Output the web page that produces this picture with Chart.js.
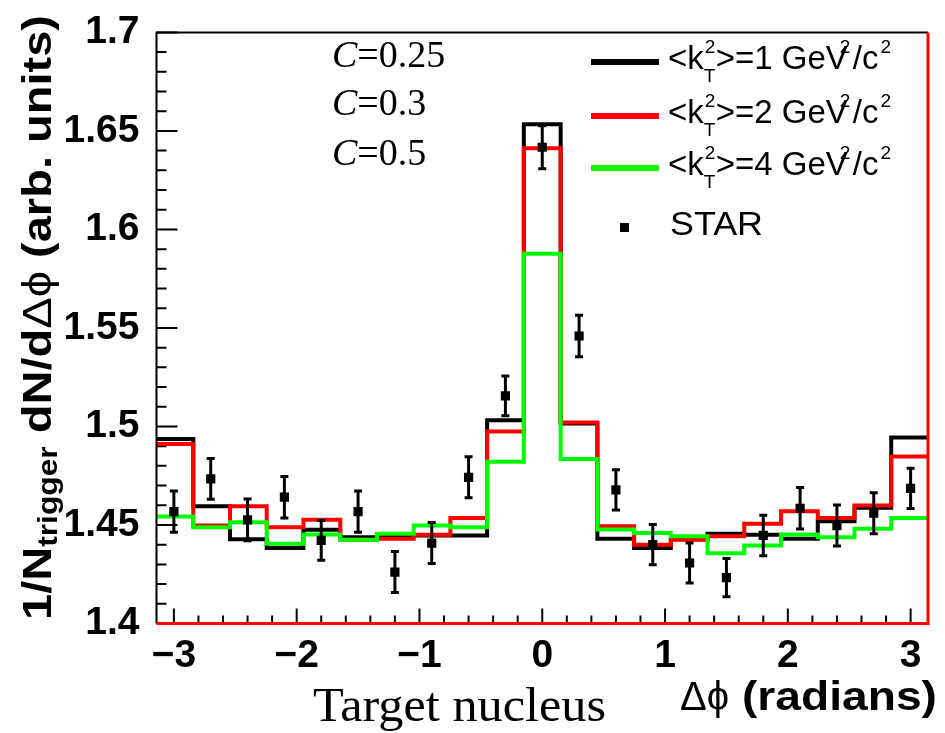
<!DOCTYPE html>
<html>
<head>
<meta charset="utf-8">
<title>Azimuthal correlation</title>
<script src="https://cdn.jsdelivr.net/npm/chart.js@4.4.1/dist/chart.umd.min.js"></script>
<style>
    html, body { margin: 0; padding: 0; background: #fff; }
    #wrap { position: relative; width: 945px; height: 733px; }
</style>
</head>
<body>
<div id="wrap"><canvas id="phiChart"></canvas></div>
<script>
// Histogram bin edges (radians), 21 bins
const binEdges = [-3.1416, -2.842, -2.543, -2.244, -1.945, -1.645, -1.346, -1.047, -0.748, -0.449, -0.150,
                  0.150, 0.449, 0.748, 1.047, 1.346, 1.645, 1.945, 2.244, 2.543, 2.842, 3.1416];

// Model curves, one value per bin
const kt1Values = [1.4936, 1.4595, 1.4427, 1.4383, 1.4476, 1.4438, 1.4442, 1.4447, 1.4447, 1.5032, 1.6534,
                   1.5015, 1.4430, 1.4383, 1.4427, 1.4455, 1.4450, 1.4430, 1.4519, 1.4587, 1.4944];
const kt2Values = [1.4911, 1.4497, 1.4595, 1.4489, 1.4526, 1.4425, 1.4430, 1.4450, 1.4536, 1.4975, 1.6412,
                   1.5020, 1.4494, 1.4400, 1.4425, 1.4443, 1.4506, 1.4570, 1.4536, 1.4599, 1.4847];
const kt4Values = [1.4543, 1.4489, 1.4514, 1.4405, 1.4452, 1.4425, 1.4455, 1.4497, 1.4489, 1.4821, 1.5877,
                   1.4835, 1.4477, 1.4459, 1.4443, 1.4357, 1.4396, 1.4452, 1.4438, 1.4481, 1.4535];

// STAR data points
const starPhi = [-3.0, -2.7, -2.4, -2.1, -1.8, -1.5, -1.2, -0.9, -0.6, -0.3, 0.0,
                 0.3, 0.6, 0.9, 1.2, 1.5, 1.8, 2.1, 2.4, 2.7, 3.0];
const starValues = [1.4568, 1.4734, 1.4526, 1.4641, 1.4422, 1.4568, 1.4261, 1.4408, 1.4742, 1.5155, 1.6417,
                    1.5459, 1.4678, 1.4400, 1.4307, 1.4233, 1.4447, 1.4585, 1.4497, 1.4560, 1.4686];
const starErrors = [0.0105, 0.0103, 0.0106, 0.0105, 0.0101, 0.0105, 0.0104, 0.0104, 0.0104, 0.0101, 0.0109,
                    0.0105, 0.0102, 0.0102, 0.0101, 0.0097, 0.0103, 0.0105, 0.0104, 0.0104, 0.0102];

const xTicks = [-3, -2, -1, 0, 1, 2, 3];
const yTicks = [1.4, 1.45, 1.5, 1.55, 1.6, 1.65, 1.7];
const legendValues = ['1', '2', '4'];
const cLabels = ['0.25', '0.3', '0.5'];

const SANS = '"Liberation Sans", Arial, sans-serif';
const SERIF = '"Liberation Serif", "Times New Roman", serif';
const DPHI = '\u0394\u03d5';

function histPoints(values) {
    const pts = values.map((v, i) => ({ x: binEdges[i], y: v }));
    pts.push({ x: binEdges[binEdges.length - 1], y: values[values.length - 1] });
    return pts;
}

// draw text, optionally stretched to a given width; returns drawn width
function putText(ctx, text, x, y, font, width) {
    ctx.save();
    ctx.font = font;
    const w = ctx.measureText(text).width;
    const sx = width ? width / w : 1;
    ctx.translate(x, y);
    ctx.scale(sx, 1);
    ctx.fillText(text, 0, 0);
    ctx.restore();
    return w * sx;
}

// ROOT style ticks inside the frame
const innerTicks = {
    id: 'innerTicks',
    beforeDatasetsDraw(chart) {
        const { ctx, chartArea: a, scales: { x, y } } = chart;
        ctx.save();
        ctx.strokeStyle = '#000';
        ctx.lineWidth = 2;
        ctx.beginPath();
        for (let i = 0; i <= 30; i++) {
            const py = y.getPixelForValue(1.4 + i * 0.01);
            const len = i % 5 === 0 ? 21 : 10;
            ctx.moveTo(a.left, py);
            ctx.lineTo(a.left + len, py);
        }
        for (let i = -15; i <= 15; i++) {
            const px = x.getPixelForValue(i * 0.2);
            const len = i % 5 === 0 ? 15 : 8;
            ctx.moveTo(px, a.bottom);
            ctx.lineTo(px, a.bottom - len);
        }
        ctx.stroke();
        ctx.restore();
    }
};

// error bars for the STAR points and the frame
const errorBars = {
    id: 'errorBars',
    afterDatasetsDraw(chart) {
        const { ctx, chartArea: a, scales: { x, y } } = chart;
        ctx.save();
        ctx.strokeStyle = '#000';
        ctx.lineWidth = 3;
        ctx.beginPath();
        starPhi.forEach((phi, i) => {
            const px = x.getPixelForValue(phi);
            const top = y.getPixelForValue(starValues[i] + starErrors[i]);
            const bot = y.getPixelForValue(starValues[i] - starErrors[i]);
            ctx.moveTo(px, top); ctx.lineTo(px, bot);
            ctx.moveTo(px - 4, top); ctx.lineTo(px + 4, top);
            ctx.moveTo(px - 4, bot); ctx.lineTo(px + 4, bot);
        });
        ctx.stroke();

        // frame: black left/top, red bottom/right
        ctx.lineWidth = 2;
        ctx.beginPath();
        ctx.moveTo(a.left, a.bottom); ctx.lineTo(a.left, a.top); ctx.lineTo(a.right, a.top);
        ctx.stroke();
        ctx.strokeStyle = '#ff0000';
        ctx.lineWidth = 3;
        ctx.beginPath();
        ctx.moveTo(a.left, a.bottom); ctx.lineTo(a.right, a.bottom); ctx.lineTo(a.right, a.top);
        ctx.stroke();
        ctx.restore();
    }
};

// titles, annotations, legend
const decorations = {
    id: 'decorations',
    afterDraw(chart) {
        const ctx = chart.ctx;
        ctx.save();
        ctx.fillStyle = '#000';
        ctx.textBaseline = 'alphabetic';

        // y axis title (rotated)
        ctx.save();
        ctx.translate(51, 620);
        ctx.rotate(-Math.PI / 2);
        const fMain = 'bold 40px ' + SANS, fSub = 'bold 27px ' + SANS, fSym = '40px ' + SANS;
        ctx.font = fMain; const w1 = ctx.measureText('1/N').width;
        ctx.font = fSub; const w2 = ctx.measureText('trigger').width;
        ctx.font = fMain; const w3 = ctx.measureText(' dN/d').width;
        ctx.font = fSym; const w4 = ctx.measureText(DPHI).width;
        ctx.font = fMain; const w5 = ctx.measureText(' (arb. units)').width;
        const s = 605 / (w1 + w2 + w3 + w4 + w5);
        ctx.scale(s, 1);
        let cx = 0;
        ctx.font = fMain; ctx.fillText('1/N', cx, 0); cx += w1;
        ctx.font = fSub; ctx.fillText('trigger', cx, 6); cx += w2;
        ctx.font = fMain; ctx.fillText(' dN/d', cx, 0); cx += w3;
        ctx.font = fSym; ctx.fillText(DPHI, cx, 0); cx += w4;
        ctx.font = fMain; ctx.fillText(' (arb. units)', cx, 0);
        ctx.restore();

        // x axis title
        const dw = putText(ctx, DPHI, 680, 710, '40px ' + SANS);
        putText(ctx, ' (radians)', 680 + dw, 710, 'bold 40px ' + SANS, 937 - 680 - dw);

        // Target nucleus
        putText(ctx, 'Target nucleus', 313, 721, '49px ' + SERIF, 293);

        // C values
        cLabels.forEach((c, i) => {
            const by = [67, 115, 165][i];
            const cw = putText(ctx, 'C', 332, by, 'italic 38px ' + SERIF);
            putText(ctx, '=' + c, 332 + cw, by, '38px ' + SERIF);
        });

        // legend
        const colors = ['#000000', '#ff0000', '#00ff00'];
        const rowY = [62, 116, 168];
        const fL = '33px ' + SANS, fS = '19px ' + SANS;
        legendValues.forEach((v, i) => {
            const ly = rowY[i];
            ctx.strokeStyle = colors[i];
            ctx.lineWidth = 6;
            ctx.beginPath();
            ctx.moveTo(591, ly); ctx.lineTo(659, ly);
            ctx.stroke();
            const by = ly + 7;
            let tx = 668;
            tx += putText(ctx, '<k', tx, by, fL);
            putText(ctx, '2', tx + 1, by - 16, fS);
            putText(ctx, 'T', tx, by + 13, fS);
            tx += 12;
            tx += putText(ctx, '>=' + v + ' GeV', tx, by, fL);
            putText(ctx, '2', tx - 8, by - 16, fS);
            tx += 5;
            tx += putText(ctx, '/c', tx, by, fL);
            putText(ctx, '2', tx + 2, by - 16, fS);
        });
        ctx.fillRect(620, 223, 9, 9);
        putText(ctx, 'STAR', 670, 235, fL, 93);
        ctx.restore();
    }
};

const tickFont = { family: SANS, size: 39, weight: 'bold' };

new Chart(document.getElementById('phiChart'), {
    type: 'line',
    data: {
        datasets: [
            {
                label: 'STAR',
                data: starPhi.map((p, i) => ({ x: p, y: starValues[i] })),
                showLine: false,
                pointStyle: 'rect',
                pointRadius: 6.5,
                backgroundColor: '#000',
                borderWidth: 0,
                order: 0
            },
            {
                label: '<kT2>=4 GeV2/c2',
                data: histPoints(kt4Values),
                borderColor: '#00ff00',
                borderWidth: 4,
                stepped: true,
                pointRadius: 0,
                fill: false,
                order: 1
            },
            {
                label: '<kT2>=2 GeV2/c2',
                data: histPoints(kt2Values),
                borderColor: '#ff0000',
                borderWidth: 4,
                stepped: true,
                pointRadius: 0,
                fill: false,
                order: 2
            },
            {
                label: '<kT2>=1 GeV2/c2',
                data: histPoints(kt1Values),
                borderColor: '#000000',
                borderWidth: 4,
                stepped: true,
                pointRadius: 0,
                fill: false,
                order: 3
            }
        ]
    },
    options: {
        responsive: true,
        maintainAspectRatio: false,
        animation: false,
        events: [],
        layout: { padding: { top: 31, left: 0, right: 0, bottom: 0 } },
        plugins: {
            legend: { display: false },
            tooltip: { enabled: false }
        },
        scales: {
            x: {
                type: 'linear',
                min: -Math.PI,
                max: Math.PI,
                grid: { display: false },
                border: { display: false },
                afterBuildTicks: (axis) => { axis.ticks = xTicks.map(v => ({ value: v })); },
                afterFit: (axis) => { axis.height = 109.5; },
                ticks: {
                    autoSkip: false,
                    maxRotation: 0,
                    padding: 1,
                    color: '#000',
                    font: tickFont,
                    callback: (v) => (v < 0 ? '\u2212' + Math.abs(v) : String(v))
                }
            },
            y: {
                type: 'linear',
                position: 'left',
                min: 1.4,
                max: 1.7,
                grid: { display: false },
                border: { display: false },
                afterBuildTicks: (axis) => { axis.ticks = yTicks.map(v => ({ value: v })); },
                afterFit: (axis) => { axis.width = 156.5; },
                ticks: {
                    padding: 9,
                    color: '#000',
                    font: tickFont,
                    callback: (v) => String(v)
                }
            },
            y2: {
                type: 'linear',
                position: 'right',
                min: 1.4,
                max: 1.7,
                grid: { display: false },
                border: { display: false },
                ticks: { display: false },
                afterFit: (axis) => { axis.width = 17; }
            }
        }
    },
    plugins: [innerTicks, errorBars, decorations]
});
</script>
</body>
</html>
